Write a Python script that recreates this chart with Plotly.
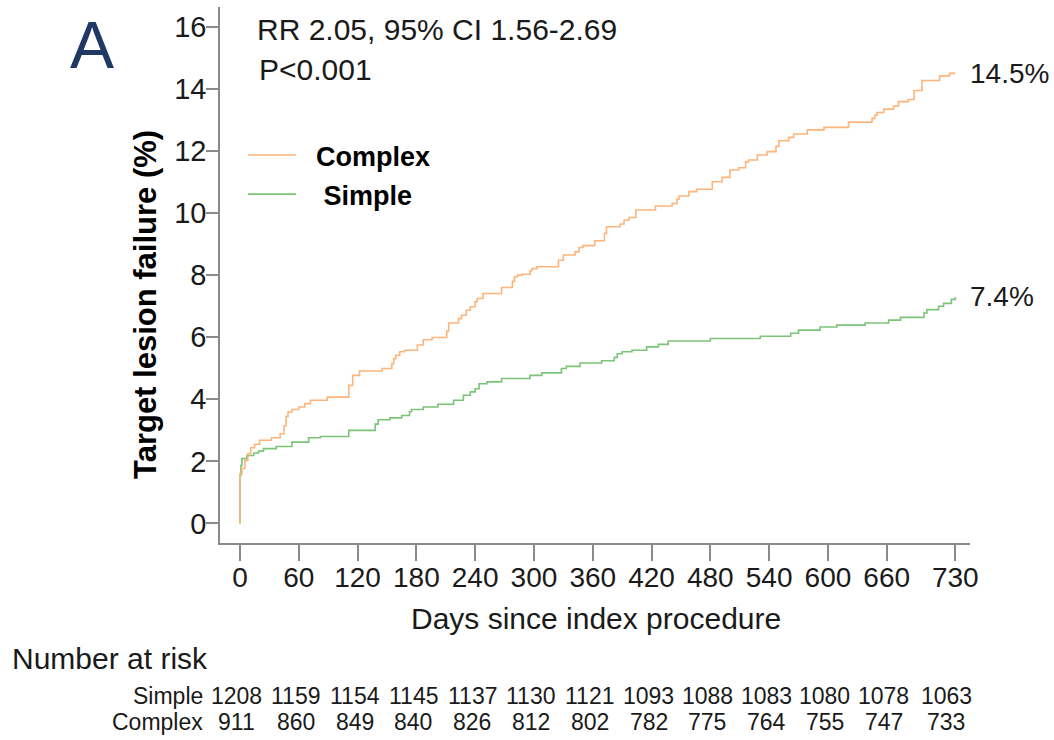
import plotly.graph_objects as go

# ---- data ----
complex_days = [0, 0, 2, 5, 8, 11, 15, 20, 32, 41, 45, 47, 49, 53, 60, 66, 72, 89, 111, 115, 122,
                145, 155, 157, 159, 163, 168, 181, 187, 196, 211, 213, 223, 226, 231, 235, 240, 242,
                248, 267, 278, 280, 283, 288, 296, 298, 303, 325, 330, 342, 346, 350, 362, 372, 374,
                388, 392, 397, 404, 424, 441, 446, 448, 458, 466, 482, 492, 500, 509, 516, 519, 528,
                538, 547, 550, 560, 565, 579, 596, 621, 645, 648, 650, 657, 667, 672, 682, 688, 696,
                714, 724, 730]
complex_tlf = [0.0, 1.6, 1.77, 2.03, 2.25, 2.44, 2.55, 2.68, 2.76, 2.89, 3.15, 3.45, 3.59, 3.67, 3.75,
               3.86, 3.97, 4.07, 4.45, 4.77, 4.91, 4.99, 5.15, 5.31, 5.42, 5.53, 5.58, 5.75, 5.92,
               5.99, 6.2, 6.46, 6.6, 6.71, 6.87, 6.98, 7.14, 7.25, 7.41, 7.6, 7.8, 7.95, 8.0, 8.03,
               8.14, 8.21, 8.27, 8.48, 8.65, 8.75, 8.89, 8.95, 9.11, 9.35, 9.56, 9.65, 9.77, 9.86,
               10.1, 10.23, 10.31, 10.45, 10.55, 10.69, 10.77, 11.01, 11.15, 11.39, 11.46, 11.65,
               11.71, 11.87, 11.98, 12.15, 12.33, 12.44, 12.55, 12.68, 12.76, 12.93, 13.05, 13.15,
               13.24, 13.35, 13.45, 13.59, 13.66, 13.95, 14.27, 14.42, 14.5, 14.5]

simple_days = [0, 0, 1, 2, 7, 14, 19, 24, 37, 53, 70, 82, 111, 138, 141, 153, 165, 173, 175, 187, 202,
               218, 228, 235, 240, 244, 252, 267, 296, 308, 328, 333, 347, 369, 382, 385, 390, 400,
               415, 427, 437, 480, 531, 562, 570, 592, 609, 638, 662, 674, 698, 701, 713, 718, 726,
               730]
simple_tlf = [0.0, 1.55, 1.87, 2.09, 2.19, 2.27, 2.33, 2.41, 2.48, 2.62, 2.76, 2.8, 3.0, 3.2, 3.34, 3.4,
              3.48, 3.6, 3.67, 3.75, 3.84, 3.97, 4.13, 4.24, 4.34, 4.5, 4.56, 4.67, 4.77, 4.85, 4.99,
              5.06, 5.17, 5.24, 5.35, 5.47, 5.53, 5.58, 5.69, 5.77, 5.88, 5.96, 6.03, 6.13, 6.23,
              6.33, 6.39, 6.46, 6.55, 6.64, 6.78, 6.89, 7.0, 7.09, 7.22, 7.3]

end_labels = {"Complex": "14.5%", "Simple": "7.4%"}

x_ticks = [0, 60, 120, 180, 240, 300, 360, 420, 480, 540, 600, 660, 730]
y_ticks = [0, 2, 4, 6, 8, 10, 12, 14, 16]

risk_simple = [1208, 1159, 1154, 1145, 1137, 1130, 1121, 1093, 1088, 1083, 1080, 1078, 1063]
risk_complex = [911, 860, 849, 840, 826, 812, 802, 782, 775, 764, 755, 747, 733]

# ---- styling ----
FONT = "Liberation Sans, Arial, sans-serif"
ORANGE = "#FDB57C"
GREEN = "#7CC478"
AXIS = "#8a8a8a"
TXT = "#1a1a1a"

fig = go.Figure()
fig.add_trace(go.Scatter(x=simple_days, y=simple_tlf, mode="lines", name="   <b>Simple</b>",
                         legendgroup="s", legendrank=2,
                         line=dict(color=GREEN, width=1.6, shape="hv")))
fig.add_trace(go.Scatter(x=complex_days, y=complex_tlf, mode="lines", name="  <b>Complex</b>",
                         legendgroup="c", legendrank=1,
                         line=dict(color=ORANGE, width=1.6, shape="hv")))

# end-of-curve labels
for days, vals, key in [(complex_days, complex_tlf, "Complex"), (simple_days, simple_tlf, "Simple")]:
    fig.add_annotation(x=days[-1], y=vals[-1], xref="x", yref="y", text=end_labels[key],
                       showarrow=False, xanchor="left", yanchor="middle", xshift=13,
                       font=dict(family=FONT, size=28, color=TXT))


def px_x(p):
    return (p - 220) / 750.0


def px_y(p):
    return (543 - p) / 536.0


# number at risk
fig.add_annotation(x=px_x(10), y=px_y(658), xref="paper", yref="paper", text="Number at risk",
                   showarrow=False, xanchor="left", yanchor="middle",
                   font=dict(family=FONT, size=30, color=TXT))
for name, row, py in [("Simple", risk_simple, 696), ("Complex", risk_complex, 722)]:
    fig.add_annotation(x=px_x(204), y=px_y(py), xref="paper", yref="paper", text=name,
                       showarrow=False, xanchor="right", yanchor="middle", borderpad=0,
                       font=dict(family=FONT, size=23, color=TXT))
    for d, n in zip(x_ticks, row):
        fig.add_annotation(x=d, y=px_y(py), xref="x", yref="paper", text=str(n),
                           showarrow=False, xanchor="center", yanchor="middle", borderpad=0,
                           xshift=-9 if d == 730 else -3,
                           font=dict(family=FONT, size=23, color=TXT))

# panel letter and stats
fig.add_annotation(x=px_x(92), y=px_y(45), xref="paper", yref="paper", text="A",
                   showarrow=False, xanchor="center", yanchor="middle",
                   font=dict(family=FONT, size=66, color="#1F3864"))
fig.add_annotation(x=px_x(255), y=px_y(30), xref="paper", yref="paper",
                   text="RR 2.05, 95% CI 1.56-2.69", showarrow=False, xanchor="left",
                   yanchor="middle", font=dict(family=FONT, size=30, color=TXT))
fig.add_annotation(x=px_x(257), y=px_y(70), xref="paper", yref="paper", text="P<0.001",
                   showarrow=False, xanchor="left", yanchor="middle",
                   font=dict(family=FONT, size=30, color=TXT))

# axis titles
fig.add_annotation(x=px_x(596), y=px_y(618), xref="paper", yref="paper",
                   text="Days since index procedure", showarrow=False, xanchor="center",
                   yanchor="middle", font=dict(family=FONT, size=30, color=TXT))
fig.add_annotation(x=px_x(145), y=px_y(305), xref="paper", yref="paper",
                   text="<b>Target lesion failure (%)</b>", showarrow=False, textangle=-90,
                   xanchor="center", yanchor="middle", font=dict(family=FONT, size=31, color="#000"))

fig.update_layout(
    width=1054, height=740,
    margin=dict(l=220, r=84, t=7, b=197),
    paper_bgcolor="white", plot_bgcolor="white",
    showlegend=True,
    legend=dict(x=px_x(243), y=px_y(131), xanchor="left", yanchor="top",
                bgcolor="rgba(0,0,0,0)", font=dict(family=FONT, size=27, color="#000"),
                itemwidth=48, tracegroupgap=1, title=None),
    font=dict(family=FONT, color=TXT),
)
fig.update_xaxes(range=[-20.4, 745], tickvals=x_ticks, ticktext=[str(t) for t in x_ticks],
                 showline=True, linecolor=AXIS, linewidth=1.5, ticks="outside", ticklen=16,
                 tickcolor=AXIS, tickwidth=1.5, showgrid=False, zeroline=False,
                 ticklabelstandoff=-7,
                 tickfont=dict(family=FONT, size=28, color=TXT))
fig.update_yaxes(range=[-0.63, 16.64], tickvals=y_ticks, showline=True, linecolor=AXIS,
                 linewidth=1.5, ticks="outside", ticklen=12, tickcolor=AXIS, tickwidth=1.5,
                 showgrid=False, zeroline=False, ticklabelstandoff=-6,
                 tickfont=dict(family=FONT, size=29, color=TXT))

fig.write_html("out.html", config={"displayModeBar": False},
               post_script="document.body.style.margin='0';document.body.style.overflow='hidden';")
